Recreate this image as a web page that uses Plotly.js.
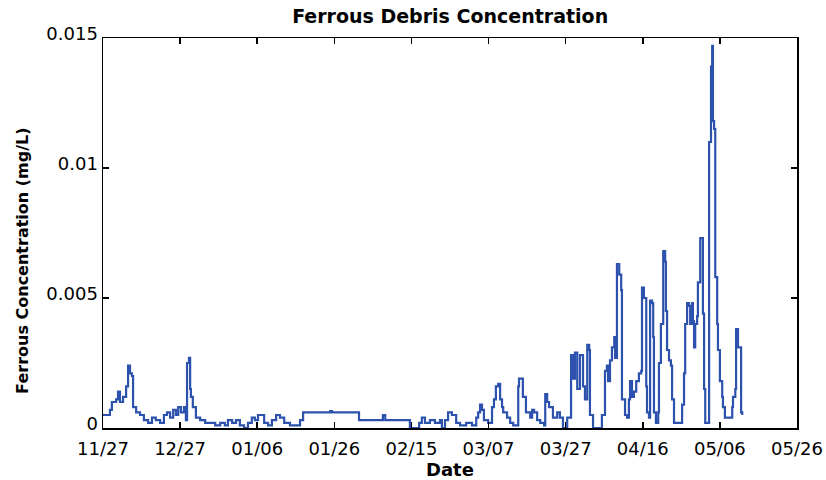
<!DOCTYPE html>
<html>
<head>
<meta charset="utf-8">
<script src="https://cdn.plot.ly/plotly-3.0.1.min.js"></script>
<style>html,body{margin:0;padding:0;background:#fff;}#chart{width:826px;height:480px;}</style>
</head>
<body>
<div id="chart"></div>
<script>
// Days since 11/27 (axis positions) and ferrous concentration (mg/L)
const days = [0,0.8,1.8,2.3,3.4,3.9,4.4,5.2,6.0,6.5,7.0,7.5,7.8,8.6,9.6,10.6,11.7,12.7,13.7,14.8,15.8,16.6,17.4,18.2,18.9,19.5,20.2,21.0,21.5,21.8,22.3,22.6,22.8,23.3,24.1,25.2,26.5,27.8,29.1,30.4,31.6,32.4,33.5,34.5,35.5,36.6,37.6,38.6,39.4,40.2,41.2,41.8,42.8,43.8,44.9,45.9,47.0,48.5,50.1,51.1,51.9,58.4,58.9,59.4,65.9,66.4,72.1,72.6,73.2,79.1,79.6,81.2,82.0,82.7,83.5,84.8,86.1,87.4,87.9,88.7,89.5,90.5,91.6,92.6,94.2,95.7,96.8,97.3,97.8,98.3,98.8,99.9,100.9,101.4,101.9,102.5,103.0,103.5,103.8,104.8,105.6,106.4,107.4,107.7,107.9,108.4,108.9,109.7,110.8,111.3,111.8,112.6,113.4,114.4,114.7,115.2,115.7,116.5,116.7,117.8,118.5,119.3,120.4,121.1,121.4,121.9,122.4,123.0,123.7,124.5,125.0,125.6,126.1,126.3,127.1,128.9,129.4,130.2,130.7,131.0,131.5,132.0,132.6,132.8,133.3,133.9,134.4,134.6,135.4,135.9,136.4,136.7,137.2,137.7,138.3,139.0,139.6,139.8,140.3,140.9,141.1,141.6,141.9,142.4,142.7,142.9,143.4,144.0,144.2,144.7,145.3,145.8,146.0,146.3,146.8,147.3,147.6,148.1,149.7,150.2,150.7,151.0,151.5,152.0,152.3,152.8,153.0,153.3,153.6,154.1,154.3,154.9,155.4,155.6,155.9,156.2,156.9,157.2,157.7,158.0,158.2,158.5,158.8,159.3,159.5,160.0,160.6,160.8,161.3,162.6,163.2,163.4,164.0,164.2,164.7,165.2,165.5,165.8];
const ferrous = [0.0005,0.0005,0.0007,0.0010,0.0011,0.0014,0.0010,0.0012,0.0016,0.0024,0.0021,0.0020,0.0008,0.0006,0.0005,0.0003,0.0002,0.0004,0.0003,0.0002,0.0005,0.0006,0.0004,0.0007,0.0005,0.0008,0.0006,0.0008,0.0003,0.0025,0.0027,0.0015,0.0012,0.0008,0.0004,0.0003,0.0002,0.0002,0.0001,0.0002,0.0001,0.0003,0.0002,0.0003,0.0001,0.0000,0.0002,0.0004,0.0003,0.0005,0.0005,0.0002,0.0001,0.0003,0.0005,0.0004,0.0002,0.0001,0.0001,0.0003,0.0006,0.0006,0.00065,0.0006,0.0006,0.0003,0.0003,0.0005,0.0003,0.0003,0.0000,0.0000,0.0002,0.0004,0.0002,0.0003,0.0002,0.0003,0.0000,0.0003,0.0006,0.0005,0.0002,0.0001,0.0002,0.0001,0.0004,0.0006,0.0009,0.0007,0.0003,0.0002,0.0008,0.0011,0.0016,0.0017,0.0011,0.0008,0.0006,0.0004,0.0002,0.0001,0.0001,0.0016,0.0019,0.0019,0.0012,0.0006,0.0004,0.0007,0.0006,0.0003,0.0002,0.0001,0.0013,0.0010,0.0008,0.0008,0.0004,0.0006,0.0004,0.0000,0.0004,0.0004,0.0028,0.0019,0.0029,0.0015,0.0028,0.0016,0.0011,0.0032,0.0030,0.0005,0.0000,0.0000,0.0005,0.0022,0.0024,0.0018,0.0026,0.0031,0.0035,0.0027,0.0063,0.0059,0.0053,0.0011,0.0005,0.0004,0.0011,0.0018,0.0012,0.0014,0.0018,0.0021,0.0022,0.0054,0.0050,0.0016,0.0006,0.0004,0.0049,0.0048,0.0035,0.0006,0.0002,0.0006,0.0025,0.0040,0.0068,0.0064,0.0045,0.0030,0.0026,0.0024,0.0011,0.0002,0.0002,0.0009,0.0021,0.0040,0.0048,0.0047,0.0040,0.0048,0.0041,0.0031,0.0040,0.0043,0.0056,0.0073,0.0073,0.0044,0.0015,0.0002,0.0002,0.0110,0.0139,0.0147,0.0118,0.0115,0.0058,0.0040,0.0030,0.0018,0.0012,0.0008,0.0004,0.0004,0.0008,0.0012,0.0015,0.0038,0.0031,0.0031,0.0006,0.0005];

const xTickVals = [0,20,40,60,80,100,120,140,160,180];
const xTickText = ['11/27','12/27','01/06','01/26','02/15','03/07','03/27','04/16','05/06','05/26'];
const yTickVals = [0,0.005,0.01,0.015];
const yTickText = ['0','0.005','0.01','0.015'];

const trace = {
  x: days, y: ferrous, type: 'scatter', mode: 'lines',
  line: {color: '#2d52ad', width: 2.2, shape: 'hv'},
  hoverinfo: 'skip'
};

const fontFam = 'DejaVu Sans, Verdana, sans-serif';
const layout = {
  width: 826, height: 480,
  margin: {l: 103, r: 29, t: 38, b: 52, pad: 0},
  paper_bgcolor: '#ffffff', plot_bgcolor: '#ffffff',
  showlegend: false,
  font: {family: fontFam, color: '#000', size: 18},
  title: {text: '<b>Ferrous Debris Concentration</b>', x: 0.545, xanchor: 'center', y: 0.965, yanchor: 'middle',
          font: {family: fontFam, size: 19, color: '#000'}},
  xaxis: {
    range: [0, 180], tickvals: xTickVals, ticktext: xTickText,
    ticks: 'inside', ticklen: 6, tickwidth: 1.5, tickcolor: '#000',
    showline: true, linecolor: '#000', linewidth: 1.5, mirror: 'ticks',
    showgrid: false, zeroline: false, ticklabelstandoff: 4,
    tickfont: {family: fontFam, size: 18, color: '#000'}
  },
  yaxis: {
    range: [0, 0.015], tickvals: yTickVals, ticktext: yTickText,
    ticks: 'inside', ticklen: 6, tickwidth: 1.5, tickcolor: '#000',
    showline: true, linecolor: '#000', linewidth: 1.5, mirror: 'ticks',
    showgrid: false, zeroline: false, ticklabelshift: -4,
    tickfont: {family: fontFam, size: 18, color: '#000'}
  },
  annotations: [
    {text: '<b>Date</b>', xref: 'paper', yref: 'paper', x: 0.5, y: -0.107, xanchor: 'center', yanchor: 'middle',
     showarrow: false, font: {family: fontFam, size: 18, color: '#000'}},
    {text: '<b>Ferrous Concentration (mg/L)</b>', xref: 'paper', yref: 'paper', x: -0.117, y: 0.428,
     xanchor: 'center', yanchor: 'middle', textangle: -90,
     showarrow: false, font: {family: fontFam, size: 16, color: '#000'}}
  ]
};

Plotly.newPlot('chart', [trace], layout, {staticPlot: true, displayModeBar: false});
</script>
</body>
</html>
